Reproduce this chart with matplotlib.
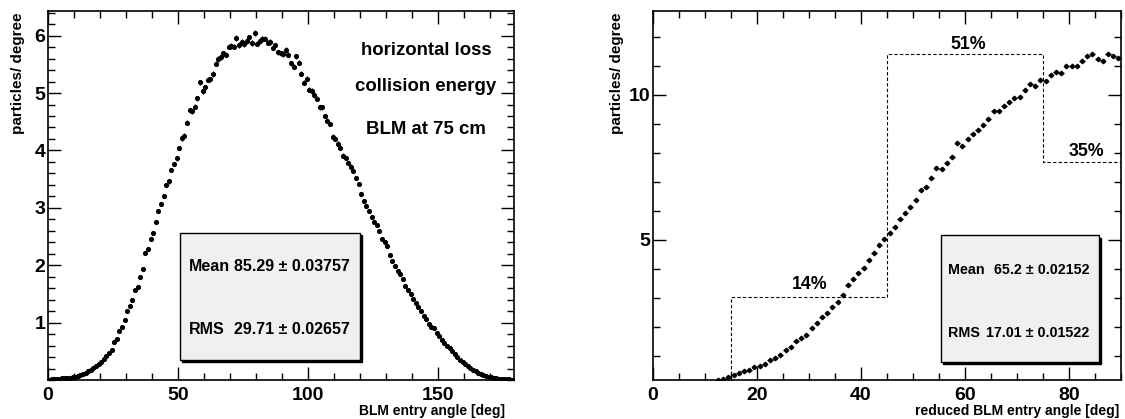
import numpy as np
import matplotlib
matplotlib.use("Agg")
import matplotlib.pyplot as plt
from matplotlib.patches import Rectangle
from matplotlib.ticker import MultipleLocator

# left panel: 1 degree bins, 0..180
full_angle = np.arange(180) + 0.5
full_counts = [
    0.00, 0.01, 0.01, 0.02, 0.02, 0.03, 0.03, 0.04, 0.04, 0.05,
    0.06, 0.07, 0.09, 0.11, 0.13, 0.16, 0.18, 0.21, 0.24, 0.28,
    0.32, 0.37, 0.42, 0.47, 0.53, 0.66, 0.72, 0.86, 0.93, 1.05,
    1.20, 1.29, 1.40, 1.56, 1.62, 1.80, 1.94, 2.22, 2.28, 2.46,
    2.56, 2.76, 2.94, 3.07, 3.21, 3.40, 3.46, 3.66, 3.76, 3.86,
    4.04, 4.21, 4.26, 4.48, 4.70, 4.68, 4.76, 4.91, 5.19, 5.03,
    5.10, 5.23, 5.24, 5.33, 5.51, 5.59, 5.63, 5.69, 5.67, 5.81,
    5.82, 5.81, 5.96, 5.84, 5.89, 5.85, 5.91, 5.97, 5.87, 6.05,
    5.86, 5.91, 5.94, 5.95, 5.88, 5.89, 5.79, 5.83, 5.71, 5.69,
    5.68, 5.75, 5.67, 5.52, 5.46, 5.64, 5.53, 5.34, 5.18, 5.25,
    5.06, 5.04, 4.96, 4.90, 4.75, 4.75, 4.60, 4.52, 4.46, 4.24,
    4.20, 4.12, 4.05, 3.91, 3.87, 3.78, 3.72, 3.65, 3.52, 3.42,
    3.24, 3.12, 3.04, 2.94, 2.84, 2.76, 2.70, 2.60, 2.45, 2.40,
    2.33, 2.17, 2.07, 1.99, 1.90, 1.84, 1.76, 1.63, 1.56, 1.50,
    1.42, 1.35, 1.27, 1.20, 1.12, 1.06, 0.98, 0.93, 0.90, 0.82,
    0.76, 0.70, 0.65, 0.59, 0.55, 0.51, 0.45, 0.40, 0.35, 0.31,
    0.28, 0.24, 0.21, 0.18, 0.15, 0.13, 0.11, 0.09, 0.07, 0.06,
    0.05, 0.04, 0.03, 0.025, 0.02, 0.015, 0.01, 0.01, 0.005, 0.0,
]

# right panel: reduced angle, 1 degree bins 12..90
red_angle = np.arange(12, 90) + 0.5
red_counts = [
    0.17, 0.21, 0.27, 0.34, 0.41, 0.47, 0.52, 0.60, 0.66, 0.72,
    0.85, 0.93, 1.02, 1.18, 1.29, 1.50, 1.62, 1.72, 1.96, 2.14,
    2.34, 2.48, 2.69, 2.86, 3.09, 3.44, 3.63, 3.86, 4.01, 4.30,
    4.53, 4.82, 5.01, 5.24, 5.43, 5.71, 5.91, 6.14, 6.37, 6.71,
    6.83, 7.12, 7.46, 7.43, 7.66, 7.86, 8.32, 8.23, 8.46, 8.64,
    8.78, 8.96, 9.15, 9.45, 9.45, 9.61, 9.76, 9.88, 9.93, 10.16,
    10.36, 10.31, 10.50, 10.47, 10.68, 10.80, 10.76, 10.99, 10.99, 10.99,
    11.17, 11.33, 11.40, 11.22, 11.17, 11.40, 11.33, 11.26,
]

# fraction bands on right panel
band_edges = [15, 45, 75, 90]
band_levels = [3.02, 11.39, 7.67]
band_labels = ["14%", "51%", "35%"]
band_label_pos = [(30.2, 3.44), (60.6, 11.74), (83.4, 8.03)]

left_info = ["horizontal loss", "collision energy", "BLM at 75 cm"]
left_stats = [("Mean", "85.29 \u00b1 0.03757"), ("RMS", "29.71 \u00b1 0.02657")]
right_stats = [("Mean", "65.2 \u00b1 0.02152"), ("RMS", "17.01 \u00b1 0.01522")]

plt.rcParams['font.family'] = ['Liberation Sans', 'DejaVu Sans']
plt.rcParams['font.weight'] = 'bold'

W, H = 1125, 419
fig = plt.figure(figsize=(W / 100, H / 100), dpi=100)


def px_axes(x0, x1, y_top, y_bot):
    return fig.add_axes([x0 / W, 1 - y_bot / H, (x1 - x0) / W, (y_bot - y_top) / H])


def style_axes(ax, xmaj, xmin, ymaj, ymin):
    ax.xaxis.set_major_locator(MultipleLocator(xmaj))
    ax.xaxis.set_minor_locator(MultipleLocator(xmin))
    ax.yaxis.set_major_locator(MultipleLocator(ymaj))
    ax.yaxis.set_minor_locator(MultipleLocator(ymin))
    ax.tick_params(which='both', direction='in', top=True, right=True, width=1.0,
                   labelsize=14)
    ax.tick_params(which='major', length=9.5)
    ax.tick_params(which='minor', length=5)
    ax.tick_params(axis='x', pad=5)
    ax.tick_params(axis='y', pad=2)
    for s in ax.spines.values():
        s.set_linewidth(1.2)


def stats_box(ax, x0, x1, y0, y1, rows, tx0, tx1, ty, fs):
    sx = (x1 - x0) * 0.012
    sy = (y1 - y0) * 0.02
    ax.add_patch(Rectangle((x0 + sx, y0 - sy), x1 - x0, y1 - y0, facecolor='black',
                           edgecolor='black', lw=1, zorder=4))
    ax.add_patch(Rectangle((x0, y0), x1 - x0, y1 - y0, facecolor='#f0f0f0',
                           edgecolor='black', lw=1, zorder=5))
    for (name, val), yy in zip(rows, ty):
        ax.text(tx0, yy, name, ha='left', va='center', fontsize=fs, zorder=6)
        ax.text(tx1, yy, val, ha='right', va='center', fontsize=fs, zorder=6)


# ---- left panel
ax1 = px_axes(48, 514, 11, 380)
ax1.errorbar(full_angle, full_counts, yerr=0.02 * np.sqrt(full_counts),
             fmt='o', ms=2.7, color='black', ecolor='black', elinewidth=0.9, capsize=0)
ax1.set_xlim(0, 179.3)
ax1.set_ylim(0, 6.43)
style_axes(ax1, 50, 10, 1, 0.2)
ax1.set_yticks([1, 2, 3, 4, 5, 6])
for txt, yy in zip(left_info, [5.74, 5.11, 4.36]):
    ax1.text(145.4, yy, txt, ha='center', va='center', fontsize=13.4)
stats_box(ax1, 50.8, 120, 0.35, 2.57, left_stats, 54.2, 116.2, [1.98, 0.88], 11.5)

fig.text(505 / W, 1 - 411 / H, "BLM entry angle [deg]", ha='right', va='center',
         fontsize=10)
fig.text(18 / W, 1 - 13 / H, "particles/ degree", rotation=90, ha='center', va='top',
         fontsize=11)

# ---- right panel
ax2 = px_axes(653, 1121, 11, 380)
ax2.errorbar(red_angle, red_counts, xerr=0.5, yerr=0.02,
             fmt='D', ms=2.3, color='black', ecolor='black', elinewidth=0.9, capsize=0)
ax2.set_xlim(0, 90)
ax2.set_ylim(0.16, 12.89)
style_axes(ax2, 20, 5, 5, 1)

# dashed fraction bands
bx = [band_edges[0]]
by = [ax2.get_ylim()[0]]
for i, lvl in enumerate(band_levels):
    bx += [band_edges[i], band_edges[i + 1]]
    by += [lvl, lvl]
ax2.plot(bx, by, color='black', lw=0.8, ls=(0, (3, 2)), zorder=1)
for lab, (lx, ly) in zip(band_labels, band_label_pos):
    ax2.text(lx, ly, lab, ha='center', va='center', fontsize=12.8)

stats_box(ax2, 55.4, 85.8, 0.79, 5.16, right_stats, 56.8, 84.0, [3.96, 1.79], 10.3)

fig.text(1119 / W, 1 - 411 / H, "reduced BLM entry angle [deg]", ha='right',
         va='center', fontsize=10)
fig.text(617 / W, 1 - 13 / H, "particles/ degree", rotation=90, ha='center', va='top',
         fontsize=11)

fig.savefig("out.png", dpi=100)
